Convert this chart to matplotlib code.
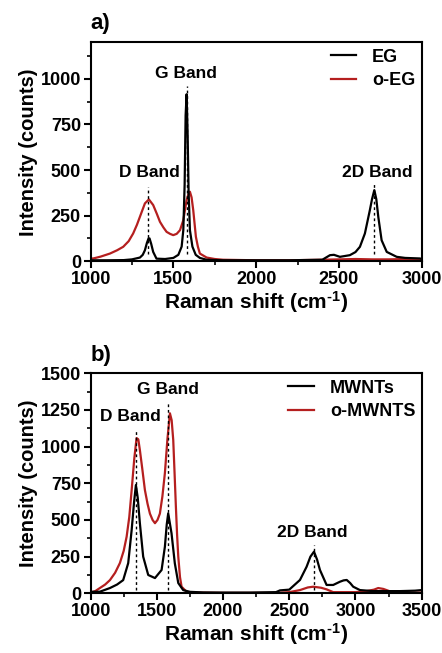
import numpy as np
import matplotlib.pyplot as plt

plt.rcParams['font.family'] = ['Liberation Sans', 'DejaVu Sans']
plt.rcParams['font.weight'] = 'bold'
plt.rcParams['mathtext.fontset'] = 'custom'
plt.rcParams['mathtext.bf'] = 'Liberation Sans:bold'
plt.rcParams['mathtext.rm'] = 'Liberation Sans:bold'
plt.rcParams['mathtext.default'] = 'bf'

# panel a: EG / o-EG
eg_x = [1000, 1100, 1200, 1250, 1298, 1315, 1328, 1340, 1350, 1356, 1366, 1378, 1398,
        1450, 1500, 1530, 1550, 1560, 1568, 1574, 1580, 1586, 1592, 1600, 1615, 1635,
        1660, 1700, 1800, 2000, 2200, 2400, 2446, 2470, 2506, 2566, 2600, 2627, 2657,
        2687, 2700, 2714, 2726, 2738, 2758, 2789, 2849, 2900, 2990, 3000]
eg_y = [5, 5, 6, 10, 20, 35, 60, 100, 125, 125, 95, 51, 14,
        12, 18, 35, 80, 170, 420, 800, 916, 700, 380, 170, 80, 35,
        18, 8, 5, 5, 5, 8, 33, 35, 24, 33, 50, 79, 152,
        280, 340, 390, 340, 243, 115, 51, 24, 18, 15, 12]
oeg_x = [1000, 1016, 1060, 1117, 1160, 1197, 1230, 1257, 1280, 1298, 1328, 1352,
         1378, 1400, 1419, 1440, 1459, 1480, 1499, 1520, 1540, 1560, 1570, 1580,
         1590, 1600, 1610, 1620, 1636, 1648, 1660, 1701, 1750, 1800, 2000, 2200,
         2400, 2500, 2600, 2700, 2800, 2900, 3000]
oeg_y = [15, 15, 25, 42, 60, 79, 110, 152, 200, 244, 317, 339,
         308, 260, 216, 185, 161, 150, 143, 150, 170, 225, 280, 335,
         365, 381, 350, 280, 134, 80, 42, 20, 12, 8, 5, 5,
         8, 10, 12, 10, 10, 12, 10]

# panel b: MWNTs / o-MWNTS
mw_x = [1000, 1070, 1146, 1200, 1246, 1284, 1310, 1328, 1342, 1356, 1372, 1397,
        1435, 1486, 1536, 1561, 1575, 1586, 1598, 1611, 1636, 1662, 1699, 1750,
        1850, 2000, 2200, 2400, 2430, 2500, 2581, 2631, 2660, 2687, 2710, 2732,
        2782, 2832, 2883, 2910, 2934, 2960, 2983, 3034, 3134, 3250, 3336, 3450,
        3500]
mw_y = [10, 11, 36, 60, 90, 206, 432, 620, 738, 650, 478, 250,
        125, 104, 159, 318, 470, 545, 480, 409, 204, 70, 22, 10,
        6, 5, 5, 8, 20, 25, 91, 181, 250, 284, 230, 159,
        57, 57, 79, 88, 91, 70, 45, 22, 15, 15, 15, 18,
        22]
omw_x = [1000, 1035, 1070, 1110, 1146, 1185, 1221, 1250, 1272, 1292, 1310, 1330,
         1347, 1360, 1372, 1390, 1410, 1430, 1448, 1468, 1486, 1505, 1523, 1542,
         1561, 1580, 1599, 1612, 1624, 1634, 1644, 1653, 1662, 1675, 1687, 1725,
         1800, 2000, 2200, 2400, 2500, 2581, 2640, 2681, 2740, 2782, 2832, 2900,
         3000, 3084, 3140, 3172, 3210, 3235, 3285, 3400, 3500]
omw_y = [5, 15, 36, 60, 90, 140, 206, 290, 386, 520, 704, 920,
         1058, 1050, 977, 850, 704, 610, 543, 500, 478, 500, 543, 660,
         820, 1050, 1227, 1180, 1045, 820, 590, 400, 250, 110, 45, 10,
         5, 3, 3, 3, 8, 22, 40, 45, 38, 27, 8, 8,
         8, 15, 25, 36, 30, 22, 5, 5, 5]

red = '#b51f1f'

# band positions: (x, line top, label x, label y, label)
bands_a = [(1348, 408, 1352, 487, 'D Band'), (1580, 963, 1574, 1031, 'G Band'),
           (2712, 427, 2732, 487, '2D Band')]
bands_b = [(1342, 1114, 1297, 1205, 'D Band'), (1584, 1307, 1587, 1386, 'G Band'),
           (2689, 330, 2674, 416, '2D Band')]

fig = plt.figure(figsize=(4.42, 6.53), dpi=100)
ax1 = fig.add_axes([0.205, 0.600, 0.749, 0.335])
ax2 = fig.add_axes([0.205, 0.0914, 0.749, 0.337])


def style(ax, xlim, ylim, yticks):
    ax.set_xlim(*xlim)
    ax.set_ylim(*ylim)
    ax.set_xticks(np.arange(xlim[0], xlim[1] + 1, 500))
    ax.set_xticks(np.arange(xlim[0], xlim[1] + 1, 250), minor=True)
    ax.set_yticks(yticks)
    ax.set_yticks(np.arange(0, ylim[1] + 1, 125), minor=True)
    for s in ax.spines.values():
        s.set_linewidth(1.5)
    ax.tick_params(which='major', length=5, width=1.5, labelsize=13, pad=2)
    ax.tick_params(which='minor', length=3, width=1.2)
    for lab in ax.get_xticklabels() + ax.get_yticklabels():
        lab.set_fontweight('bold')
    ax.set_xlabel('Raman shift (cm$^{\\text{-}1}$)', fontsize=15, fontweight='bold', labelpad=1)
    ax.set_ylabel('Intensity (counts)', fontsize=14.5, fontweight='bold', labelpad=2)


def bands(ax, items, ybot):
    for x, top, tx, ty, lab in items:
        ax.plot([x, x], [ybot, top], color='black', ls=(0, (2, 2)), lw=1.0)
        ax.text(tx, ty, lab, ha='center', va='center', fontsize=12.5, fontweight='bold')


def legend(ax):
    ax.legend(loc='upper right', frameon=False, fontsize=13, handlelength=1.4,
              handletextpad=0.9, borderaxespad=0.2, borderpad=0.15, labelspacing=0.35)


ax1.plot(eg_x, eg_y, color='black', lw=1.6, label='EG', zorder=3)
ax1.plot(oeg_x, oeg_y, color=red, lw=1.6, label='o-EG', zorder=2)
bands(ax1, bands_a, 40)
style(ax1, (1000, 3000), (0, 1200), [0, 250, 500, 750, 1000])
legend(ax1)

ax2.plot(mw_x, mw_y, color='black', lw=1.6, label='MWNTs', zorder=3)
ax2.plot(omw_x, omw_y, color=red, lw=1.6, label='o-MWNTS', zorder=2)
bands(ax2, bands_b, 23)
style(ax2, (1000, 3500), (0, 1500), [0, 250, 500, 750, 1000, 1250, 1500])
legend(ax2)

fig.text(0.205, 0.964, 'a)', fontsize=16, fontweight='bold', ha='left', va='center')
fig.text(0.205, 0.456, 'b)', fontsize=16, fontweight='bold', ha='left', va='center')

fig.savefig('out.png', dpi=100)
